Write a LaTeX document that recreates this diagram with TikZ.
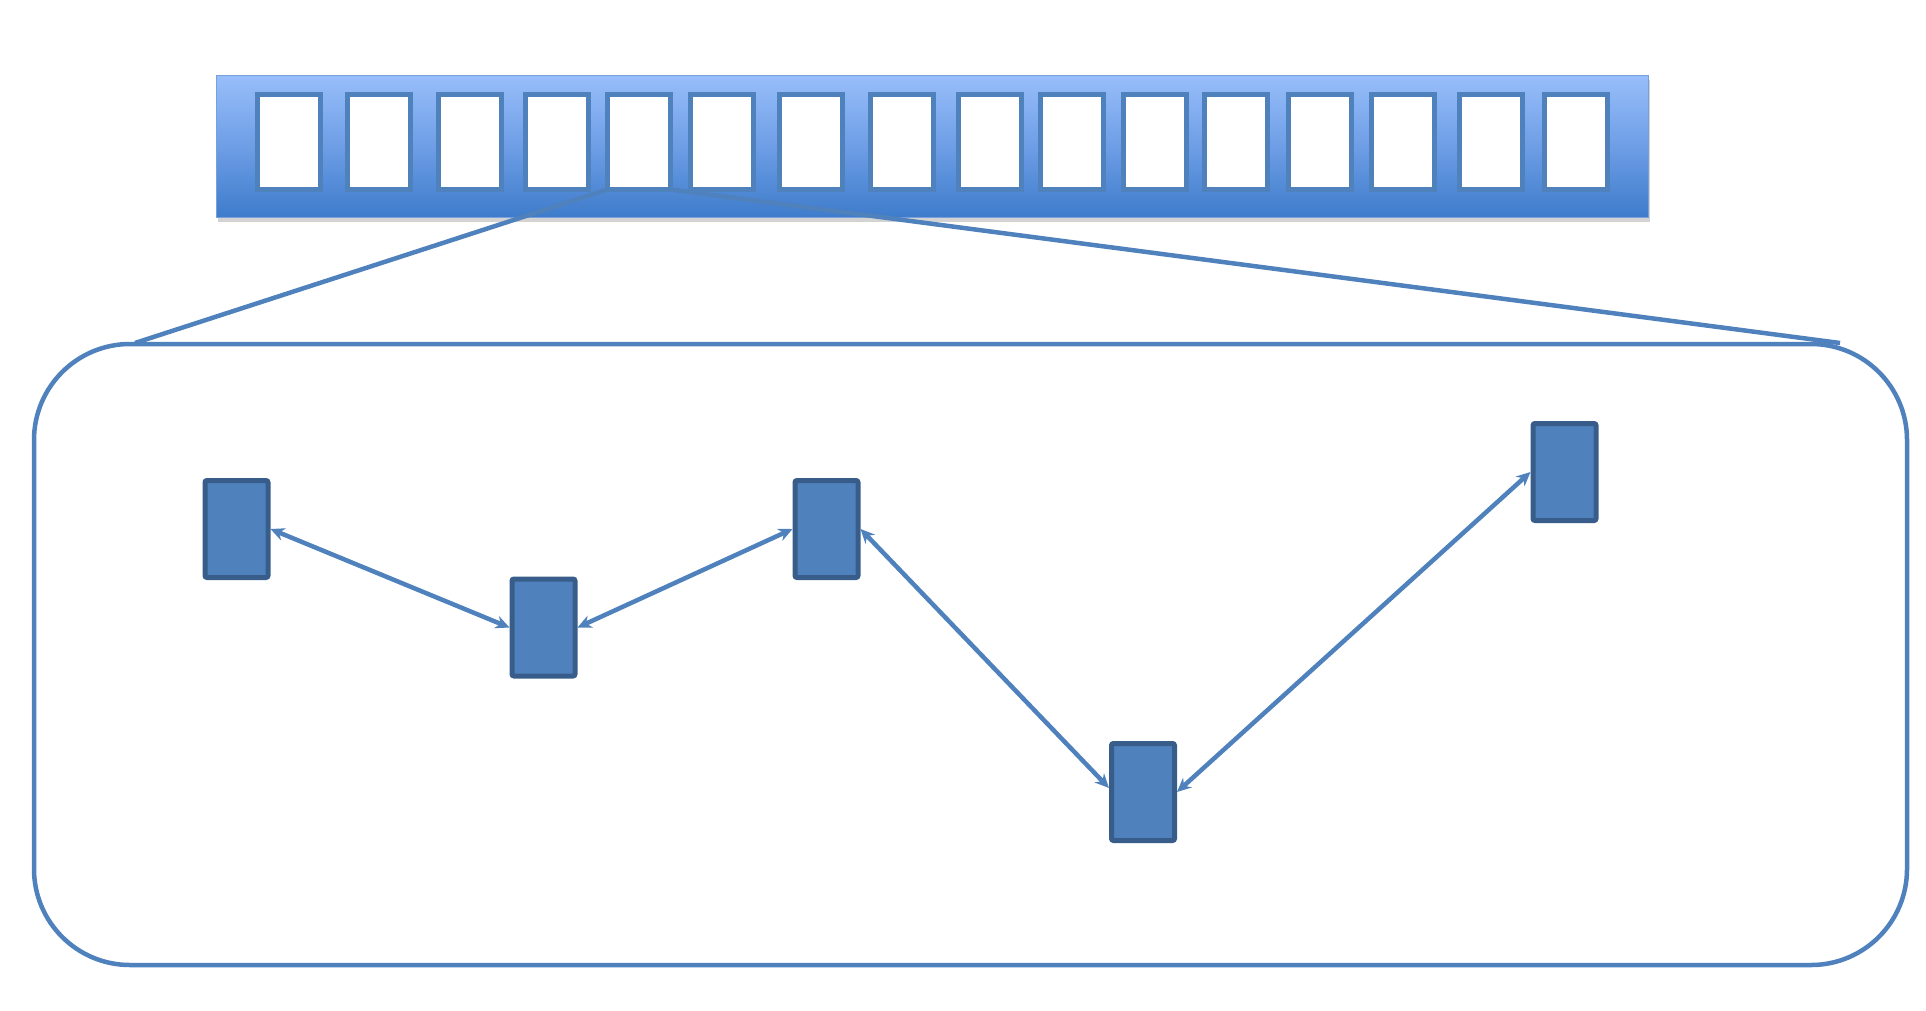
\documentclass[tikz,border=0pt]{standalone}
\usetikzlibrary{arrows.meta,shadows}
\definecolor{nodefill}{RGB}{79,129,189}
\definecolor{nodeborder}{RGB}{56,93,138}
\definecolor{linecol}{RGB}{79,129,189}
\definecolor{barlight}{RGB}{152,190,250}
\definecolor{barmid}{RGB}{110,158,230}
\definecolor{bardark}{RGB}{62,124,203}
\definecolor{baredge}{RGB}{120,160,220}
\tikzset{
  cellbox/.style={draw=linecol, line width=5pt, fill=white, minimum width=63pt, minimum height=95pt, inner sep=0pt, outer sep=0pt},
  blockbox/.style={draw=nodeborder, line width=5pt, fill=nodefill, rounded corners=2pt, minimum width=63pt, minimum height=97pt, inner sep=0pt},
  framebox/.style={draw=linecol, line width=4.5pt, rounded corners=96pt, minimum width=1873pt, minimum height=621pt, inner sep=0pt},
  zoomline/.style={draw=linecol, line width=4.5pt},
  biarrow/.style={draw=linecol, line width=4.5pt, {Stealth[length=14pt,width=13pt]}-{Stealth[length=14pt,width=13pt]}},
  barbox/.style={draw=baredge, line width=1pt, top color=barlight, bottom color=bardark, middle color=barmid,
     drop shadow={opacity=0.35, shadow xshift=2pt, shadow yshift=-5pt, fill=gray}}
}
\begin{document}
\begin{tikzpicture}[x=1pt,y=-1pt]
\useasboundingbox (0,0) rectangle (1926,1010);
% bar
\node[barbox, minimum width=1432pt, minimum height=142pt, inner sep=0pt] (bar) at (932,146) {};
% cells
\foreach \i/\x in {1/255,2/345,3/436,4/523,5/605,6/688,7/777,8/868,9/956,10/1038,11/1121,12/1202,13/1286,14/1369,15/1457,16/1542}{
  \node[cellbox] (c\i) at ({\x+34},142) {};
}
% frame
\node[framebox] (frame) at (970.5,654.5) {};
% zoom lines
\coordinate (lt) at (135,343);
\coordinate (rt) at (1840,343);
\draw[zoomline] (c5.south west) -- (lt);
\draw[zoomline] (c5.south east) -- (rt);
% blocks
\node[blockbox] (n1) at (236.5,529) {};
\node[blockbox] (n2) at (543.5,627.5) {};
\node[blockbox] (n3) at (826.5,529) {};
\node[blockbox] (n4) at (1143,792) {};
\node[blockbox] (n5) at (1564.5,472) {};
% arrows
\draw[biarrow] (n1.east) -- (n2.west);
\draw[biarrow] (n2.east) -- (n3.west);
\draw[biarrow] (n3.east) -- ([yshift=4pt]n4.west);
\draw[biarrow] (n4.east) -- (n5.west);
\end{tikzpicture}
\end{document}
